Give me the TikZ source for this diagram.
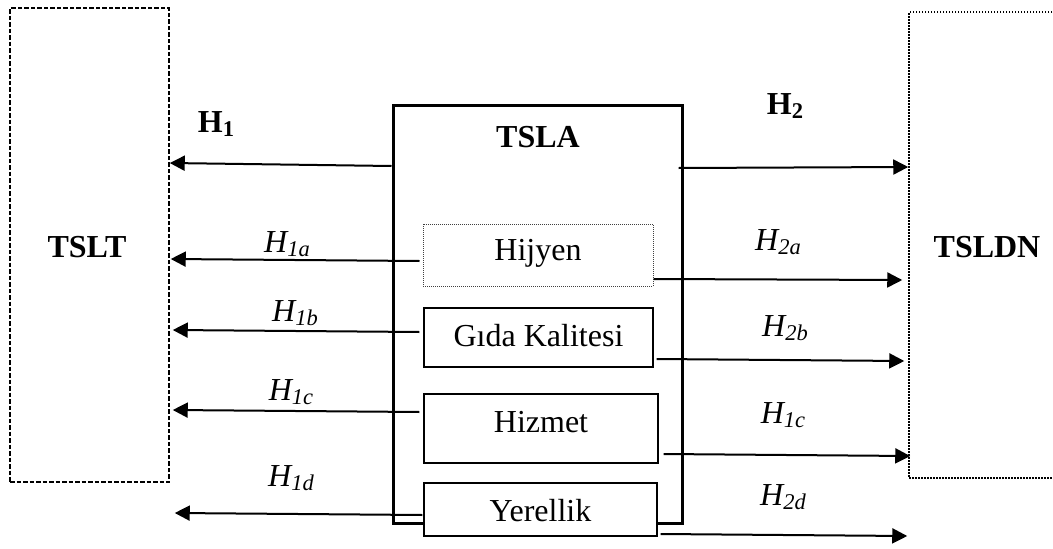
\documentclass[tikz,border=0pt]{standalone}
\usepackage{fontspec}
\setmainfont{Liberation Serif}
\usetikzlibrary{arrows.meta}
\newcommand{\lsub}[1]{\raisebox{-0.12em}{\fontsize{22.5}{22.5}\selectfont #1}}
\begin{document}
\begin{tikzpicture}[x=1pt,y=-1pt,
  font=\fontsize{32}{36}\selectfont,
  txt/.style={inner sep=0pt},
  sub/.style={draw, line width=1.3pt, inner sep=0pt},
  arr/.style={line width=2pt, -{Triangle[length=15pt,width=15pt]}}]
\useasboundingbox (0,0) rectangle (1053,549);
% outer boxes
\node[draw, line width=1.5pt, dash pattern=on 4.5pt off 2pt, minimum width=159pt, minimum height=474pt, inner sep=0pt] (tslt) at (89.5,245) {};
\node[txt] (tslttext) at (87,247) {\textbf{TSLT}};
\node[draw, line width=1.5pt, dash pattern=on 1.5pt off 1.5pt, minimum width=191pt, minimum height=466pt, inner sep=0pt] (tsldn) at (1004.5,245) {};
\node[txt] (tsldntext) at (987,247) {\textbf{TSLDN}};
% central box
\node[draw, line width=3pt, minimum width=289pt, minimum height=418pt, inner sep=0pt] (tsla) at (537.5,314) {};
\node[txt] (tslatext) at (538,137) {\textbf{TSLA}};
% sub boxes
\node[sub, draw=black!75, line width=1pt, dash pattern=on 1pt off 1pt, minimum width=230pt, minimum height=62pt] (hijyen) at (538,255) {};
\node[txt] (hijyentext) at (538,253) {Hijyen};
\node[sub, minimum width=229pt, minimum height=59pt] (gida) at (538.5,337.5) {};
\node[txt] (gidatext) at (538.5,336) {Gıda Kalitesi};
\node[sub, minimum width=234pt, minimum height=69pt] (hizmet) at (541,428.5) {};
\node[txt] (hizmettext) at (541,422) {Hizmet};
\node[sub, fill=white, minimum width=233pt, minimum height=53pt] (yerellik) at (540.5,509.5) {};
\node[txt] (yerelliktext) at (540.5,511) {Yerellik};
% left arrows
\draw[arr] ([yshift=148pt]tsla.west) -- ([yshift=82pt]tslt.east);
\draw[arr] ([xshift=-3pt,yshift=-6pt]hijyen.west) -- ([xshift=1pt,yshift=-14pt]tslt.east);
\draw[arr] ([xshift=-4pt,yshift=5.5pt]gida.west) -- ([xshift=3pt,yshift=-85pt]tslt.east);
\draw[arr] ([xshift=-4pt,yshift=16.5pt]hizmet.west) -- ([xshift=3pt,yshift=-165pt]tslt.east);
\draw[arr] ([xshift=-1pt,yshift=-5.5pt]yerellik.west) -- ([xshift=5pt,yshift=-268pt]tslt.east);
% right arrows
\draw[arr] ([xshift=-5pt,yshift=146pt]tsla.east) -- ([yshift=78pt]tsldn.west);
\draw[arr] ([yshift=-24pt]hijyen.east) -- ([xshift=-6pt,yshift=-35pt]tsldn.west);
\draw[arr] ([xshift=3pt,yshift=-21.5pt]gida.east) -- ([xshift=-4pt,yshift=-116pt]tsldn.west);
\draw[arr] ([xshift=5pt,yshift=-25.5pt]hizmet.east) -- ([xshift=2pt,yshift=-211pt]tsldn.west);
\draw[arr] ([xshift=3pt,yshift=-24.5pt]yerellik.east) -- ([xshift=-1pt,yshift=-291pt]tsldn.west);
% labels
\node[txt] (lh1) at (216,124) {\textbf{H\lsub{1}}};
\node[txt] (lh2) at (785,106) {\textbf{H\lsub{2}}};
\node[txt] (lh1a) at (287,244) {\textit{H\lsub{1a}}};
\node[txt] (lh1b) at (295,313) {\textit{H\lsub{1b}}};
\node[txt] (lh1c) at (291,392) {\textit{H\lsub{1c}}};
\node[txt] (lh1d) at (291,478) {\textit{H\lsub{1d}}};
\node[txt] (lh2a) at (778,242) {\textit{H\lsub{2a}}};
\node[txt] (lh2b) at (785,328) {\textit{H\lsub{2b}}};
\node[txt] (lh1cr) at (783,415) {\textit{H\lsub{1c}}};
\node[txt] (lh2d) at (783,497) {\textit{H\lsub{2d}}};
\end{tikzpicture}
\end{document}
